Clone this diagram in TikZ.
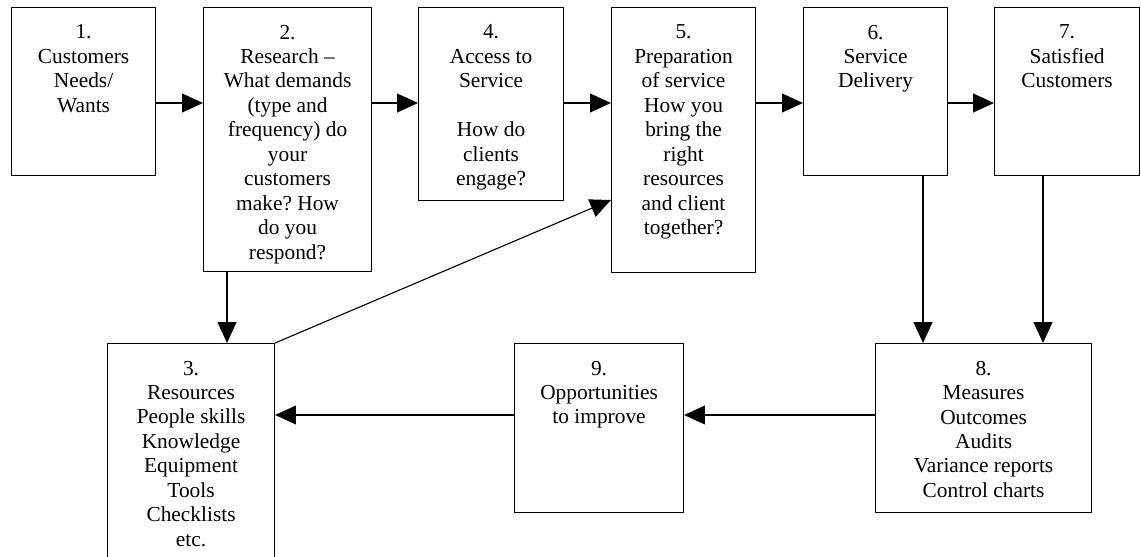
\documentclass[tikz,border=0pt]{standalone}
\usepackage{fontspec}
\setmainfont{Liberation Serif}
\frenchspacing
\usetikzlibrary{arrows.meta}
\tikzset{
  stage/.style={draw, line width=0.8pt, anchor=north west, inner sep=0pt},
  stagetext/.style={anchor=north, align=center, inner sep=0pt,
    font=\fontsize{15.2}{17.4}\selectfont},
  flow/.style={line width=0.8pt, -{Triangle[length=0.52cm,width=0.47cm]}}
}
\begin{document}
\begin{tikzpicture}
        \useasboundingbox (0,0) rectangle (28.525,-13.925);
        \clip (0,0) rectangle (28.525,-13.925);
        %% Top row
        \node[stage, minimum width=3.6cm, minimum height=4.2cm] (b1) at (0.275,-0.175) {};
        \node[stage, minimum width=4.2cm, minimum height=6.6cm] (b2) at (5.075,-0.175) {};
        \node[stage, minimum width=3.625cm, minimum height=4.825cm] (b4) at (10.45,-0.175) {};
        \node[stage, minimum width=3.6cm, minimum height=6.625cm] (b5) at (15.275,-0.175) {};
        \node[stage, minimum width=3.6cm, minimum height=4.2cm] (b6) at (20.075,-0.175) {};
        \node[stage, minimum width=3.625cm, minimum height=4.2cm] (b7) at (24.85,-0.175) {};
        %% Bottom row
        \node[stage, minimum width=4.175cm, minimum height=6cm] (b3) at (2.675,-8.575) {};
        \node[stage, minimum width=4.225cm, minimum height=4.225cm] (b9) at (12.85,-8.575) {};
        \node[stage, minimum width=5.4cm, minimum height=4.225cm] (b8) at (21.875,-8.575) {};
        %% Texts
        \node[stagetext] (t1) at ([yshift=-0.44cm]b1.north) {1.\\Customers\\Needs/\\Wants};
        \node[stagetext] (t2) at ([yshift=-0.44cm]b2.north) {2.\\Research --\\What demands\\(type and\\frequency) do\\your\\customers\\make? How\\do you\\respond?};
        \node[stagetext] (t4) at ([yshift=-0.44cm]b4.north) {4.\\Access to\\Service\\[17.4pt]How do\\clients\\engage?};
        \node[stagetext] (t5) at ([yshift=-0.44cm]b5.north) {5.\\Preparation\\of service\\How you\\bring the\\right\\resources\\and client\\together?};
        \node[stagetext] (t6) at ([yshift=-0.44cm]b6.north) {6.\\Service\\Delivery};
        \node[stagetext] (t7) at ([yshift=-0.44cm]b7.north) {7.\\Satisfied\\Customers};
        \node[stagetext] (t3) at ([yshift=-0.44cm]b3.north) {3.\\Resources\\People skills\\Knowledge\\Equipment\\Tools\\Checklists\\etc.};
        \node[stagetext] (t9) at ([yshift=-0.44cm]b9.north) {9.\\Opportunities\\to improve};
        \node[stagetext] (t8) at ([yshift=-0.44cm]b8.north) {8.\\Measures\\Outcomes\\Audits\\Variance reports\\Control charts};
        %% Arrows
        \coordinate (top) at (0,-2.575);
        \coordinate (low) at (0,-10.375);
        \coordinate (mid) at (0,-5.0);
        \draw[flow] (b1.east |- top) -- (b2.west |- top);
        \draw[flow] (b2.east |- top) -- (b4.west |- top);
        \draw[flow] (b4.east |- top) -- (b5.west |- top);
        \draw[flow] (b5.east |- top) -- (b6.west |- top);
        \draw[flow] (b6.east |- top) -- (b7.west |- top);
        \draw[flow] (b2.south -| 5.675,0) -- (b3.north -| 5.675,0);
        \draw[flow] (b3.north east) -- (b5.west |- mid);
        \draw[flow] (b6.south -| 23.075,0) -- (b8.north -| 23.075,0);
        \draw[flow] (b7.south -| 26.075,0) -- (b8.north -| 26.075,0);
        \draw[flow] (b8.west |- low) -- (b9.east |- low);
        \draw[flow] (b9.west |- low) -- (b3.east |- low);
\end{tikzpicture}
\end{document}
